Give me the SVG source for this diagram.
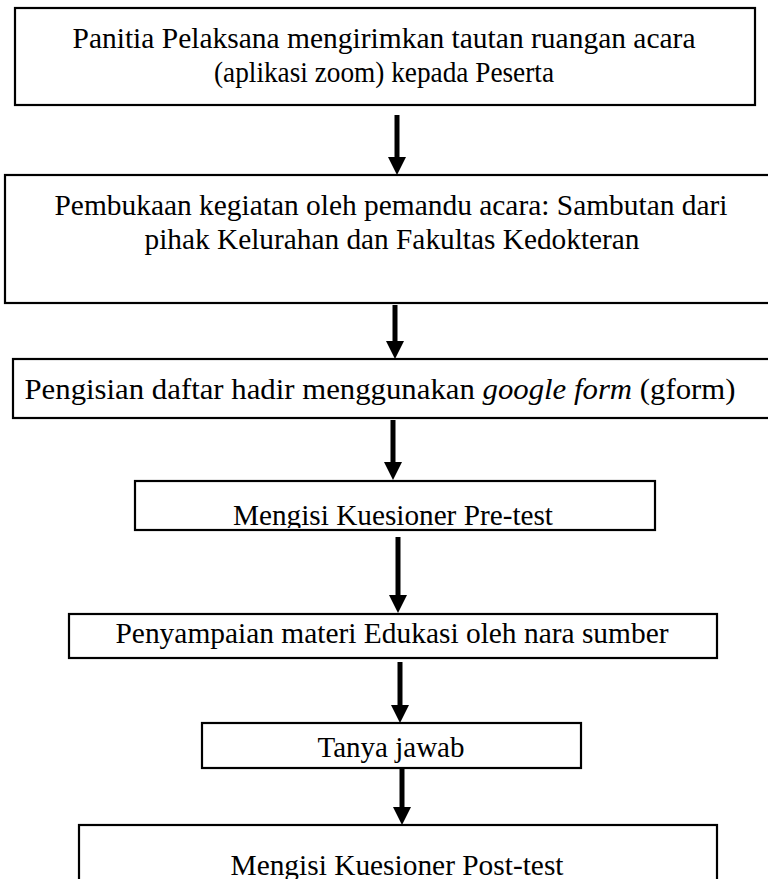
<svg xmlns="http://www.w3.org/2000/svg" width="768" height="879" viewBox="0 0 768 879">
<style>
.box{fill:#fff;stroke:#000;stroke-width:2.2}
.t{font-family:"Liberation Serif","Times New Roman",serif;font-size:30px;fill:#000;text-anchor:middle}
.c{stroke:#000;stroke-width:5;fill:none}
</style>
<defs>
<marker id="ah" markerUnits="userSpaceOnUse" viewBox="0 -9 18 18" refX="0" refY="0" markerWidth="18" markerHeight="18" orient="auto">
<path d="M0,-9 L18,0 L0,9 z" fill="#000"/>
</marker>
<clipPath id="clip4"><rect x="135" y="481" width="520" height="47"/></clipPath>
</defs>
<rect width="768" height="879" fill="#fff"/>
<g id="connectors">
<line class="c" x1="397" y1="115" x2="397" y2="157" marker-end="url(#ah)"/>
<line class="c" x1="395" y1="305" x2="395" y2="341" marker-end="url(#ah)"/>
<line class="c" x1="393" y1="420" x2="393" y2="462" marker-end="url(#ah)"/>
<line class="c" x1="398" y1="537" x2="398" y2="595" marker-end="url(#ah)"/>
<line class="c" x1="400" y1="662" x2="400" y2="705" marker-end="url(#ah)"/>
<line class="c" x1="402" y1="769" x2="402" y2="807" marker-end="url(#ah)"/>
</g>
<g id="n1">
<rect class="box" x="15" y="8" width="740" height="97"/>
<text class="t" x="384" y="48" textLength="623" lengthAdjust="spacingAndGlyphs">Panitia Pelaksana mengirimkan tautan ruangan acara</text>
<text class="t" x="384" y="82" textLength="340" lengthAdjust="spacingAndGlyphs">(aplikasi zoom) kepada Peserta</text>
</g>
<g id="n2">
<rect class="box" x="5" y="175" width="775" height="128"/>
<text class="t" x="391" y="215" textLength="673" lengthAdjust="spacingAndGlyphs">Pembukaan kegiatan oleh pemandu acara: Sambutan dari</text>
<text class="t" x="392" y="249" textLength="495" lengthAdjust="spacingAndGlyphs">pihak Kelurahan dan Fakultas Kedokteran</text>
</g>
<g id="n3">
<rect class="box" x="13" y="359" width="770" height="59"/>
<text class="t" x="380" y="399" textLength="711" lengthAdjust="spacingAndGlyphs">Pengisian daftar hadir menggunakan <tspan font-style="italic">google form</tspan> (gform)</text>
</g>
<g id="n4">
<rect class="box" x="135" y="481" width="520" height="49"/>
<text class="t" x="393" y="525" clip-path="url(#clip4)" textLength="320" lengthAdjust="spacingAndGlyphs">Mengisi Kuesioner Pre-test</text>
</g>
<g id="n5">
<rect class="box" x="69" y="614" width="648" height="44"/>
<text class="t" x="392" y="643" textLength="553" lengthAdjust="spacingAndGlyphs">Penyampaian materi Edukasi oleh nara sumber</text>
</g>
<g id="n6">
<rect class="box" x="202" y="723" width="379" height="45"/>
<text class="t" x="391" y="757" textLength="147" lengthAdjust="spacingAndGlyphs">Tanya jawab</text>
</g>
<g id="n7">
<rect class="box" x="79" y="825" width="638" height="70"/>
<text class="t" x="397" y="875" textLength="333" lengthAdjust="spacingAndGlyphs">Mengisi Kuesioner Post-test</text>
</g>
</svg>
